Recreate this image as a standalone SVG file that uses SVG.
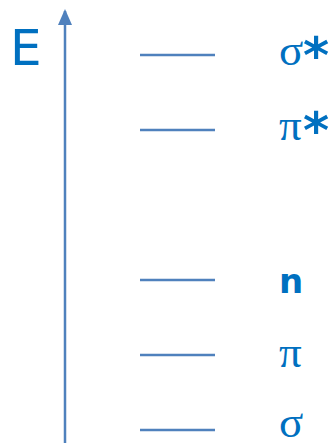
<svg xmlns="http://www.w3.org/2000/svg" width="335" height="443" viewBox="0 0 335 443">
<style>
.lvl{stroke:#4F81BD;stroke-width:2.5}
.t{fill:#0070C0;font-family:"DejaVu Sans",sans-serif}
.g{font-size:45px;font-family:"Liberation Serif",serif}
.s{font-size:50px;font-weight:bold}
</style>
<defs>
<marker id="ah" markerWidth="16" markerHeight="14" refX="14" refY="7" orient="auto" markerUnits="userSpaceOnUse">
<path d="M0,0 L16,7 L0,14 Z" fill="#4F81BD"/>
</marker>
</defs>
<g id="connectors">
<line x1="65" y1="443" x2="65" y2="11" stroke="#4F81BD" stroke-width="2.5" marker-end="url(#ah)"/>
</g>
<g id="axis-label"><text class="t" x="10" y="65" font-size="50">E</text></g>
<g id="sigma-star"><line class="lvl" x1="140" y1="55" x2="215" y2="55"/><text class="t g" x="279" y="65">σ</text><text class="t s" x="303" y="73">*</text></g>
<g id="pi-star"><line class="lvl" x1="140" y1="130" x2="215" y2="130"/><text class="t g" x="279" y="140">π</text><text class="t s" x="303" y="148">*</text></g>
<g id="n"><line class="lvl" x1="140" y1="280" x2="215" y2="280"/><text class="t" x="279" y="293" font-size="34" font-weight="bold">n</text></g>
<g id="pi"><line class="lvl" x1="140" y1="355" x2="215" y2="355"/><text class="t g" x="279" y="367">π</text></g>
<g id="sigma"><line class="lvl" x1="140" y1="430" x2="215" y2="430"/><text class="t g" x="279" y="437">σ</text></g>
</svg>
